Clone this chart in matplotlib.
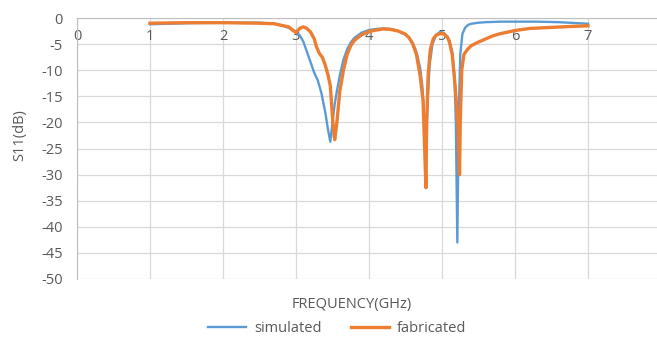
import matplotlib.pyplot as plt

# simulated S11
sim_f = [1.0, 1.5, 2.0, 2.5, 2.7, 2.85, 2.95, 3.0, 3.05, 3.1, 3.15, 3.2, 3.25, 3.3, 3.35, 3.4, 3.44, 3.47,
         3.5, 3.53, 3.56, 3.6, 3.65, 3.7, 3.75, 3.8, 3.9, 4.0, 4.1, 4.2, 4.3, 4.4, 4.5, 4.55, 4.6, 4.65,
         4.7, 4.73, 4.76, 4.78, 4.8, 4.83, 4.87, 4.92, 4.97, 5.02, 5.07, 5.1, 5.14, 5.17, 5.19, 5.21,
         5.23, 5.25, 5.28, 5.32, 5.36, 5.4, 5.5, 5.6, 5.8, 6.0, 6.3, 6.6, 7.0]
sim_db = [-1.2, -1.0, -0.9, -0.9, -1.1, -1.6, -2.2, -2.7, -3.3, -4.5, -6.5, -8.5, -10.5, -12.0, -14.5, -18.0, -21.5, -23.7,
          -20.0, -16.5, -14.0, -11.0, -8.0, -6.0, -4.7, -3.8, -2.8, -2.3, -2.1, -2.0, -2.1, -2.5, -3.2, -3.8, -4.8, -6.5,
          -9.5, -13.0, -20.0, -26.0, -17.0, -9.0, -5.0, -3.2, -2.7, -2.8, -3.5, -4.3, -6.5, -11.0, -20.0, -43.0,
          -18.0, -7.0, -3.0, -1.8, -1.3, -1.1, -0.9, -0.8, -0.7, -0.7, -0.7, -0.8, -1.1]

# fabricated S11
fab_f = [1.0, 1.5, 2.0, 2.5, 2.7, 2.8, 2.9, 2.95, 3.0, 3.05, 3.1, 3.15, 3.2, 3.25, 3.28, 3.32, 3.36, 3.4,
         3.44, 3.47, 3.49, 3.51, 3.53, 3.56, 3.6, 3.65, 3.7, 3.75, 3.8, 3.9, 4.0, 4.1, 4.2, 4.3, 4.4, 4.5,
         4.55, 4.6, 4.65, 4.7, 4.74, 4.76, 4.78, 4.79, 4.81, 4.84, 4.88, 4.92, 4.97, 5.02, 5.07, 5.1, 5.14,
         5.18, 5.2, 5.22, 5.24, 5.25, 5.27, 5.3, 5.35, 5.4, 5.5, 5.6, 5.7, 5.8, 6.0, 6.2, 6.5, 6.8, 7.0]
fab_db = [-1.0, -0.9, -0.9, -1.0, -1.1, -1.4, -1.7, -2.3, -2.8, -2.0, -1.7, -2.0, -2.7, -4.0, -5.5, -6.8, -7.5, -9.0,
          -11.0, -13.0, -17.0, -21.0, -23.3, -20.0, -14.0, -10.0, -7.0, -5.3, -4.3, -3.2, -2.6, -2.3, -2.1, -2.2, -2.5, -3.1,
          -3.8, -5.0, -7.0, -11.0, -15.7, -24.0, -32.5, -20.0, -11.0, -6.0, -4.0, -3.3, -3.0, -3.0, -3.6, -4.5, -7.0,
          -13.0, -17.0, -21.0, -30.0, -20.0, -10.0, -7.0, -6.0, -5.3, -4.6, -4.0, -3.4, -3.0, -2.4, -2.0, -1.8, -1.6, -1.5]

x_ticks = [0, 1, 2, 3, 4, 5, 6, 7, 8]
y_ticks = [0, -5, -10, -15, -20, -25, -30, -35, -40, -45, -50]

txt = '#595959'
grid_c = '#d9d9d9'
plt.rcParams['font.family'] = ['Open Sans', 'DejaVu Sans']
plt.rcParams['axes.unicode_minus'] = False
fs = 10.5

fig = plt.figure(figsize=(6.57, 3.44), dpi=100)
ax = fig.add_axes([77 / 657, 65 / 344, 584 / 657, 261 / 344])

ax.plot(sim_f, sim_db, color='#5b9bd5', lw=1.7, label='simulated')
ax.plot(fab_f, fab_db, color='#ed7d31', lw=2.4, label='fabricated')

ax.set_xlim(0, 8)
ax.set_ylim(-50, 0)
ax.set_xticks(x_ticks)
ax.set_yticks(y_ticks)
ax.grid(True, color=grid_c, lw=0.9)
ax.set_axisbelow(True)

ax.spines['bottom'].set_position(('data', 0))
ax.spines['bottom'].set_color('#bfbfbf')
ax.spines['left'].set_color('#bfbfbf')
ax.spines['top'].set_visible(False)
ax.spines['right'].set_visible(False)
ax.tick_params(length=0, colors=txt, labelsize=fs)
ax.tick_params(axis='x', pad=8)
ax.tick_params(axis='y', pad=10)

ax.set_ylabel('S11(dB)', color=txt, fontsize=fs)
ax.yaxis.set_label_coords(-0.085, 0.55)
ax.set_xlabel('FREQUENCY(GHz)', color=txt, fontsize=fs)
ax.xaxis.set_label_coords(0.47, -0.07)

fig.legend(loc='center', bbox_to_anchor=(0.513, 0.045), ncol=2, frameon=False,
           fontsize=fs, labelcolor=txt, handlelength=2.6, columnspacing=2.0, handletextpad=0.55)

fig.savefig('out.png', dpi=100)
